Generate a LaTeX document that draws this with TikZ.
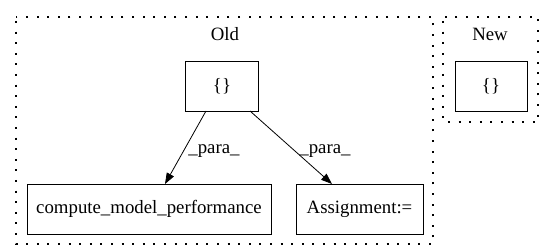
\documentclass[tikz,border=0pt]{standalone}
\usepackage{fontspec}
\setmainfont{Liberation Serif}
\usepackage{tikz}
\usetikzlibrary{positioning,arrows.meta}
\tikzstyle{block} = [draw, rectangle, align=center, inner sep=0pt, line width=0.9pt]
\tikzstyle{cluster} = [draw, dash pattern=on 2pt off 8.6pt, dash phase=-4pt, line width=1.3pt]
\tikzstyle{edge} = [-{Triangle[length=11pt,width=8pt]}, line width=0.8pt]

\begin{document}
\begin{tikzpicture}[x=1pt, y=-1pt, font=\fontsize{18.8}{21}\selectfont]
\useasboundingbox (0,0) rectangle (549,248);
% the two clusters
\draw [cluster] (16,17) rectangle (433,244);
\draw [cluster] (443,17) rectangle (538,122);
\node (oldlbl) at (225,34) {Old};
\node (newlbl) at (490,34) {New};
% old graph
\node (braces) [block, minimum width=73pt, minimum height=50pt] at (222,86) {\{\}};
\node (compute) [block, minimum width=244pt, minimum height=50pt] at (149,209) {compute\_model\_performance};
\node (assign) [block, minimum width=127pt, minimum height=50pt] at (359.5,209) {Assignment:=};
\coordinate (s1) at (206,111);
\coordinate (t1) at (165,184);
\coordinate (s2) at (250,111);
\coordinate (t2) at (332,184);
\draw [edge] (s1) -- (t1);
\draw [edge] (s2) -- (t2);
\node (para1) at (214,151) {\_para\_};
\node (para2) at (325,151) {\_para\_};
% new graph
\node (newbraces) [block, minimum width=72pt, minimum height=50pt] at (491,86) {\{\}};
\end{tikzpicture}
\end{document}
